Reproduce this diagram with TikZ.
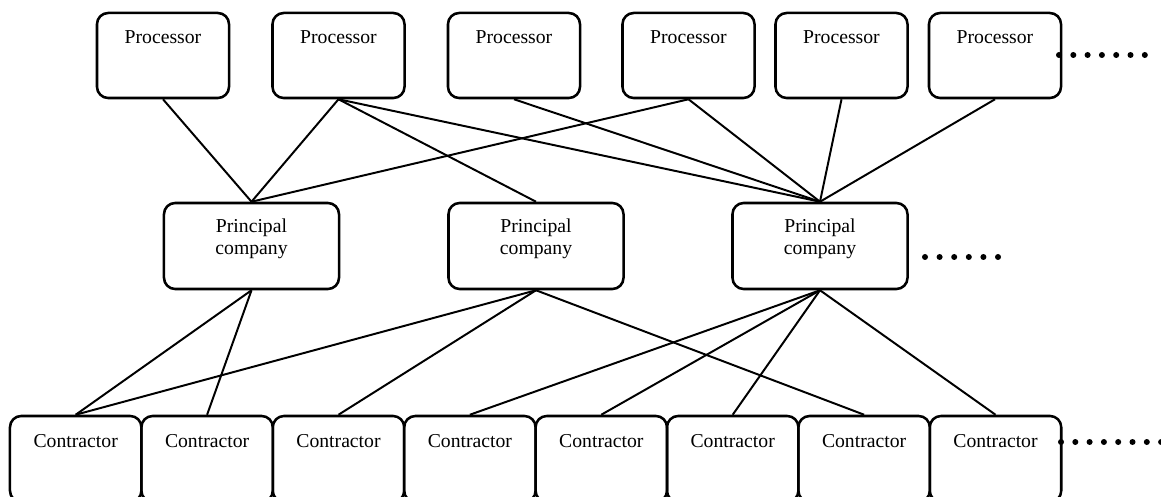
\documentclass[tikz,border=0pt]{standalone}
\usepackage{fontspec}
\setmainfont{Liberation Serif}

\begin{document}
\begin{tikzpicture}[x=0.025cm, y=-0.025cm,
        every node/.style={font=\fontsize{14}{15.5}\selectfont},
        box/.style={draw, line width=1.8pt, rounded corners=0.28cm, inner ysep=0pt},
        processor/.style={box, minimum width=3.3cm, text height=0.775cm, text depth=1.35cm},
        principal/.style={box, minimum width=4.375cm, text height=0.75cm, text depth=1.4cm},
        contractor/.style={box, minimum width=3.285cm, text height=0.8cm, text depth=1.35cm},
        link/.style={line width=1.4pt}]
        \useasboundingbox (0, 0) rectangle (1161, 497);

        \foreach \x [count=\i] in {163, 338.5, 514, 688.5, 841.5, 995} {
            \node[processor] (p\i) at (\x, 55.5) {Processor};
        }

        \node[principal] (pc1) at (251.5, 246) {\begin{tabular}[t]{@{}c@{}}Principal\\company\end{tabular}};
        \node[principal] (pc2) at (536, 246) {\begin{tabular}[t]{@{}c@{}}Principal\\company\end{tabular}};
        \node[principal] (pc3) at (820, 246) {\begin{tabular}[t]{@{}c@{}}Principal\\company\end{tabular}};

        \foreach \i in {1,...,8} {
            \node[contractor] (c\i) at ({75.7 + 131.4*(\i-1)}, 459) {Contractor};
        }

        \foreach \p in {1,2,4} \draw[link] (p\p.south) -- (pc1.north);
        \draw[link] (p2.south) -- (pc2.north);
        \foreach \p in {2,...,6} \draw[link] (p\p.south) -- (pc3.north);

        \foreach \c in {1,2} \draw[link] (pc1.south) -- (c\c.north);
        \foreach \c in {1,3,7} \draw[link] (pc2.south) -- (c\c.north);
        \foreach \c in {4,5,6,8} \draw[link] (pc3.south) -- (c\c.north);

        \foreach \i in {0,...,6} \fill (1059 + 14.3*\i, 55) circle (0.075cm);
        \foreach \i in {0,...,5} \fill (925 + 14.6*\i, 257) circle (0.075cm);
        \foreach \i in {0,...,7} \fill (1061 + 14.3*\i, 442) circle (0.075cm);
    \end{tikzpicture}
\end{document}
